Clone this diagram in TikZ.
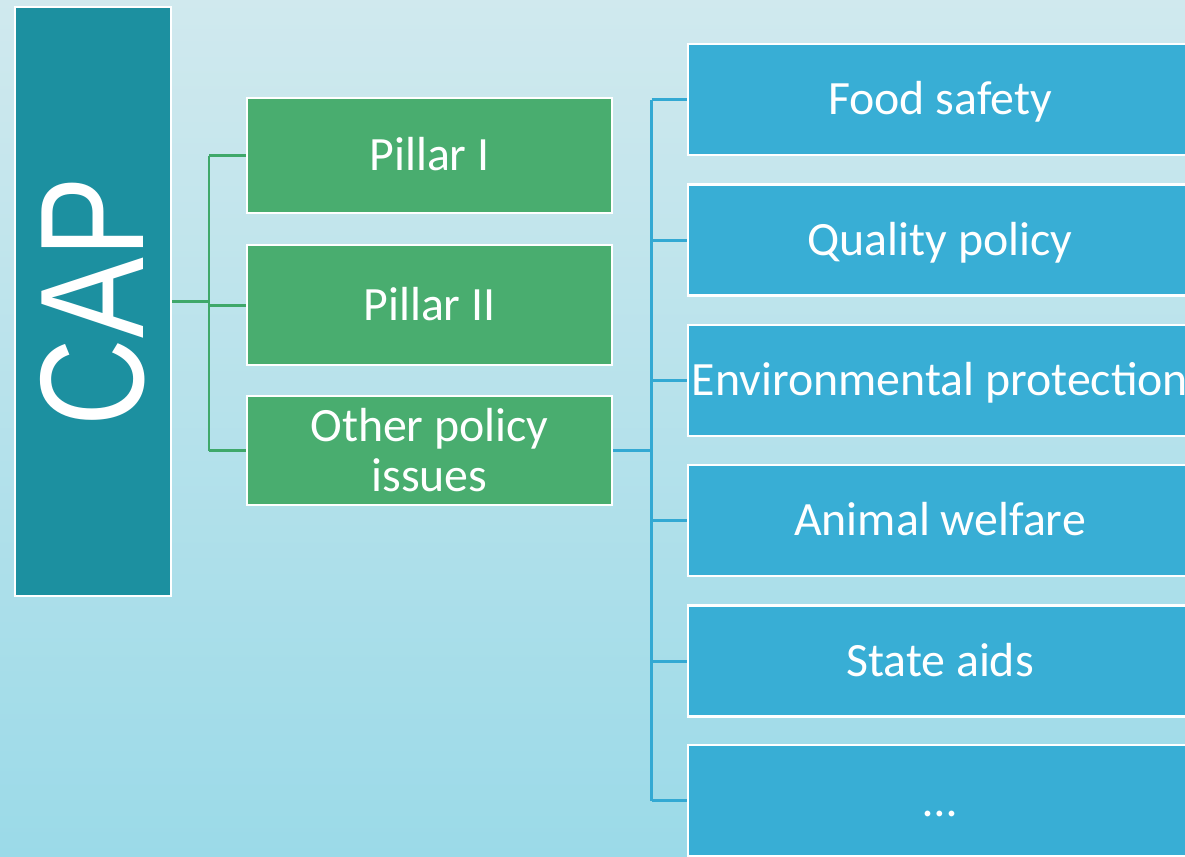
\documentclass[tikz,border=0pt]{standalone}
\usepackage{fontspec}
\setmainfont{Carlito}
\newfontfamily\capfont{Liberation Sans}
\definecolor{bgtop}{HTML}{D0E9EE}
\definecolor{bgbot}{HTML}{9BDAE8}
\definecolor{capteal}{HTML}{1C90A0}
\definecolor{pillgreen}{HTML}{49AD6F}
\definecolor{issueblue}{HTML}{38AED5}
\definecolor{glinecol}{HTML}{3FA86A}
\definecolor{blinecol}{HTML}{33A9D3}
\begin{document}
\begin{tikzpicture}[x=0.01cm,y=-0.01cm,
    box/.style={draw=white,line width=0.7pt,text=white,align=center,inner sep=0pt,
      font=\fontsize{13.6}{14.2}\selectfont},
    oneline/.style={text height=8.8pt,text depth=0pt},
    pillar/.style={box,fill=pillgreen,minimum width=3.65cm},
    issue/.style={box,oneline,fill=issueblue,minimum width=5.04cm,minimum height=1.11cm},
    gline/.style={glinecol,line width=0.85pt},
    bline/.style={blinecol,line width=0.85pt}]
      \shade[top color=bgtop,bottom color=bgbot] (0,0) rectangle (1185,856);
      \useasboundingbox (0,0) rectangle (1185,856);
      \clip (0,0) rectangle (1185,856);

      \node[box,fill=capteal,minimum width=1.56cm,minimum height=5.89cm] (cap) at (93,301.5)
        {\capfont\fontsize{42}{42}\selectfont\rotatebox{90}{\scalebox{0.82}[1]{CAP}}};

      \node[pillar,oneline,minimum height=1.15cm] (pone) at (429.5,155.5) {Pillar I};
      \node[pillar,oneline,minimum height=1.2cm] (ptwo) at (429.5,305) {Pillar II};
      \node[pillar,minimum height=1.09cm] (other) at (429.5,450.5) {Other policy\\issues};

      \node[issue] (food) at (940,99.5) {Food safety};
      \node[issue] (quality) at (940,240) {Quality policy};
      \node[issue] (env) at (940,380.5) {Environmental protection};
      \node[issue] (animal) at (940,520.5) {Animal welfare};
      \node[issue] (aids) at (940,661) {State aids};
      \node[issue] (more) at (940,800.5) {\dots};

      \coordinate (gbus) at (209,301.5);
      \coordinate (bbus) at (651.5,450.5);

      \draw[gline] (cap.east) -- (gbus);
      \draw[gline] (gbus |- pone.west) -- (gbus |- other.west);
      \foreach \n in {pone,ptwo,other}
        \draw[gline] (gbus |- \n.west) -- (\n.west);

      \draw[bline] (other.east) -- (bbus);
      \draw[bline] (bbus |- food.west) -- (bbus |- more.west);
      \foreach \n in {food,quality,env,animal,aids,more}
        \draw[bline] (bbus |- \n.west) -- (\n.west);
\end{tikzpicture}
\end{document}
